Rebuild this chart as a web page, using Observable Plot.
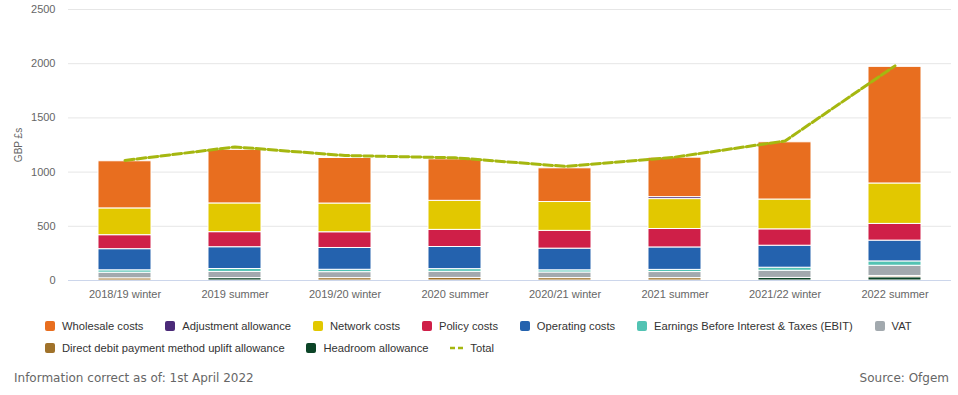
<!DOCTYPE html>
<html><head><meta charset="utf-8">
<script src="https://cdn.jsdelivr.net/npm/d3@7"></script>
<script src="https://cdn.jsdelivr.net/npm/@observablehq/plot@0.6"></script>
<style>
body{margin:0;background:#fff;font-family:"Liberation Sans",Arial,sans-serif;}
#wrap{position:relative;width:958px;height:395px;overflow:hidden;background:#fff;}
#chart{position:absolute;left:0;top:0;}
.legend{position:absolute;left:45px;font-size:11.2px;color:#333;display:flex;align-items:center;white-space:nowrap;height:16px;}
.item{display:flex;align-items:center;margin-right:21.8px;}
.sw{width:10px;height:10px;border-radius:2px;margin-right:7px;flex:none;}
.footer{position:absolute;top:371px;font-family:"DejaVu Sans",Verdana,sans-serif;font-size:12px;color:#666;line-height:15px;}
</style>
</head><body>
<div id="wrap">
  <div id="chart"></div>
  <div class="legend" id="row1" style="top:318px"></div>
  <div class="legend" id="row2" style="top:340px"></div>
  <div class="footer" style="left:14px">Information correct as of: 1st April 2022</div>
  <div class="footer" style="right:9px">Source: Ofgem</div>
</div>
<script>
// ---- data ----
const periods = ["2018/19 winter","2019 summer","2019/20 winter","2020 summer","2020/21 winter","2021 summer","2021/22 winter","2022 summer"];
const wholesale   = [435, 494, 420, 383, 311, 364, 528, 1076];
const adjustment  = [0, 0, 0, 0, 0, 18, 0, 0];
const network     = [247, 265, 265, 268, 266, 276, 275, 373];
const policy      = [129, 139, 145, 158, 164, 170, 151, 154];
const operating   = [195, 201, 201, 204, 200, 207, 203, 192];
const ebit        = [22, 27, 22, 25, 20, 20, 28, 40];
const vat         = [52, 57, 55, 56, 52, 56, 66, 94];
const directDebit = [20, 0, 22, 24, 22, 22, 0, 12];
const headroom    = [0, 22, 0, 0, 0, 0, 24, 30];
const total       = [1108, 1232, 1153, 1132, 1053, 1138, 1287, 1980];
const yTicks = [0, 500, 1000, 1500, 2000, 2500];

const seriesNames = ["Wholesale costs","Adjustment allowance","Network costs","Policy costs","Operating costs","Earnings Before Interest & Taxes (EBIT)","VAT","Direct debit payment method uplift allowance","Headroom allowance"];
const seriesValues = [wholesale, adjustment, network, policy, operating, ebit, vat, directDebit, headroom];
const seriesColors = ["#e86e1f","#4b2a78","#e2c800","#cf1f48","#2462ae","#52c3b3","#a2a9ae","#a0722a","#0c4427"];
const totalColor = "#a5b710";

// stacked bottom-first (reverse of legend order)
const rows = [];
periods.forEach((p, i) => {
  for (let s = seriesNames.length - 1; s >= 0; s--) {
    const v = seriesValues[s][i];
    if (v > 0) rows.push({period: p, series: seriesNames[s], value: v});
  }
});
const totalRows = periods.map((p, i) => ({period: p, total: total[i]}));

const chart = Plot.plot({
  width: 958, height: 305,
  marginLeft: 68, marginRight: 7, marginTop: 9, marginBottom: 25,
  style: {fontFamily: "Liberation Sans", fontSize: "11px", color: "#666", background: "white", overflow: "visible"},
  x: {domain: periods, paddingInner: 0.52, paddingOuter: 0.26, tickSize: 0, tickPadding: 10, label: null},
  y: {domain: [0, 2500], ticks: yTicks, tickSize: 0, tickPadding: 13, tickFormat: d => String(d), label: null},
  color: {domain: seriesNames, range: seriesColors},
  marks: [
    Plot.ruleY(yTicks.filter(d => d > 0), {stroke: "#e6e6e6"}),
    Plot.barY(rows, {x: "period", y: "value", fill: "series", stroke: "white", strokeWidth: 1}),
    Plot.ruleY([0], {stroke: "#ccd6eb"}),
    Plot.line(totalRows, {x: "period", y: "total", stroke: totalColor, strokeWidth: 3, strokeDasharray: "9,3", curve: "linear"}),
    Plot.text(["GBP £s"], {text: d => d, frameAnchor: "left", textAnchor: "middle", dx: -50, rotate: -90, fill: "#666", fontSize: 10})
  ]
});
document.getElementById("chart").appendChild(chart);

// legend
function addItem(row, name, color) {
  const it = document.createElement("div"); it.className = "item";
  const sw = document.createElement("div"); sw.className = "sw"; sw.style.background = color;
  const tx = document.createElement("span"); tx.textContent = name;
  it.appendChild(sw); it.appendChild(tx); row.appendChild(it);
}
const r1 = document.getElementById("row1"), r2 = document.getElementById("row2");
seriesNames.forEach((n, i) => addItem(i < 7 ? r1 : r2, n, seriesColors[i]));
const tItem = document.createElement("div"); tItem.className = "item";
tItem.innerHTML = `<svg width="14" height="10" style="margin-right:6px"><line x1="0" x2="14" y1="5" y2="5" stroke="${totalColor}" stroke-width="2.5" stroke-dasharray="5,3"/></svg><span>Total</span>`;
r2.appendChild(tItem);
</script>
</body></html>
